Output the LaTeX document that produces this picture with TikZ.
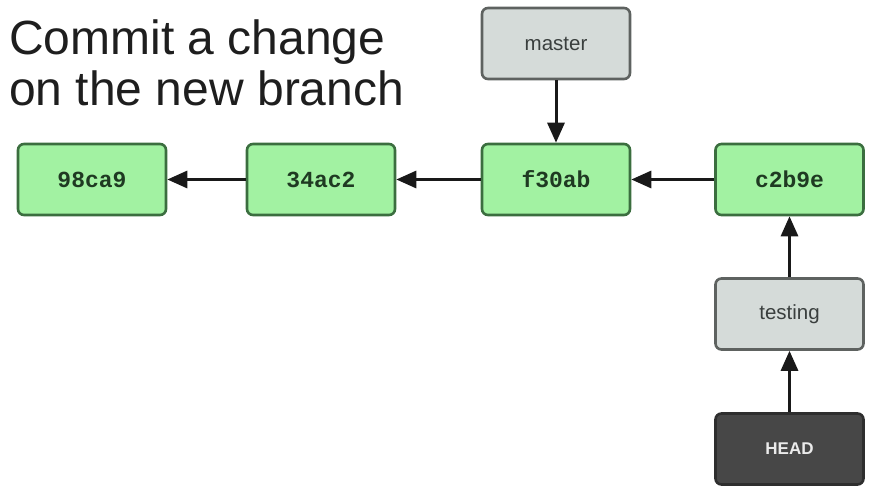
\documentclass[tikz,border=0pt]{standalone}
\usepackage{fontspec}
\setmainfont{Liberation Sans}
\newfontfamily\hashfont{Liberation Mono}
\usetikzlibrary{arrows.meta}

\definecolor{commitfill}{HTML}{A2F2A2}
\definecolor{commitline}{HTML}{3B6E3F}
\definecolor{committext}{HTML}{1F3A22}
\definecolor{reffill}{HTML}{D5DBD9}
\definecolor{refline}{HTML}{5E6260}
\definecolor{reftext}{HTML}{3A3F3E}
\definecolor{headfill}{HTML}{474747}
\definecolor{headline}{HTML}{2E2E2E}
\definecolor{titletext}{HTML}{1E1E1E}

\tikzset{
  box/.style={rectangle, rounded corners=6pt, line width=2.6pt,
    minimum width=148pt, minimum height=71pt, inner sep=0pt},
  commit/.style={box, draw=commitline, fill=commitfill, text=committext,
    font=\hashfont\bfseries\fontsize{23}{26}\selectfont},
  ref/.style={box, draw=refline, fill=reffill, text=reftext,
    font=\fontsize{20.5}{24}\selectfont},
  headref/.style={box, draw=headline, fill=headfill, text=white!92!black,
    font=\bfseries\fontsize{17}{20}\selectfont},
  link/.style={line width=3pt, black!90, -{Triangle[length=20pt, width=17pt]}},
  title/.style={anchor=base west, inner sep=0pt, text=titletext,
    font=\fontsize{48}{54}\selectfont}
}

\begin{document}
\begin{tikzpicture}[x=1pt, y=-1pt]
  \useasboundingbox (0,0) rectangle (873,487);

  % caption
  \node[title] (t1) at (9,55) {Commit a change};
  \node[title] (t2) at (9,106) {on the new branch};

  % commits
  \node[commit] (c1) at (92,179.5)    {98ca9};
  \node[commit] (c2) at (321,179.5)   {34ac2};
  \node[commit] (c3) at (556,179.5)   {f30ab};
  \node[commit] (c4) at (789.5,179.5) {c2b9e};

  % references
  \node[ref] (master)  at (556,43.5)  {master};
  \node[ref] (testing) at (789.5,314) {testing};
  \node[headref] (head) at (789.5,449) {HEAD};

  % parent links
  \draw[link] (c2.west) -- (c1.east);
  \draw[link] (c3.west) -- (c2.east);
  \draw[link] (c4.west) -- (c3.east);

  % pointers
  \draw[link] (master.south) -- (c3.north);
  \draw[link] (testing.north) -- (c4.south);
  \draw[link] (head.north) -- (testing.south);
\end{tikzpicture}
\end{document}
